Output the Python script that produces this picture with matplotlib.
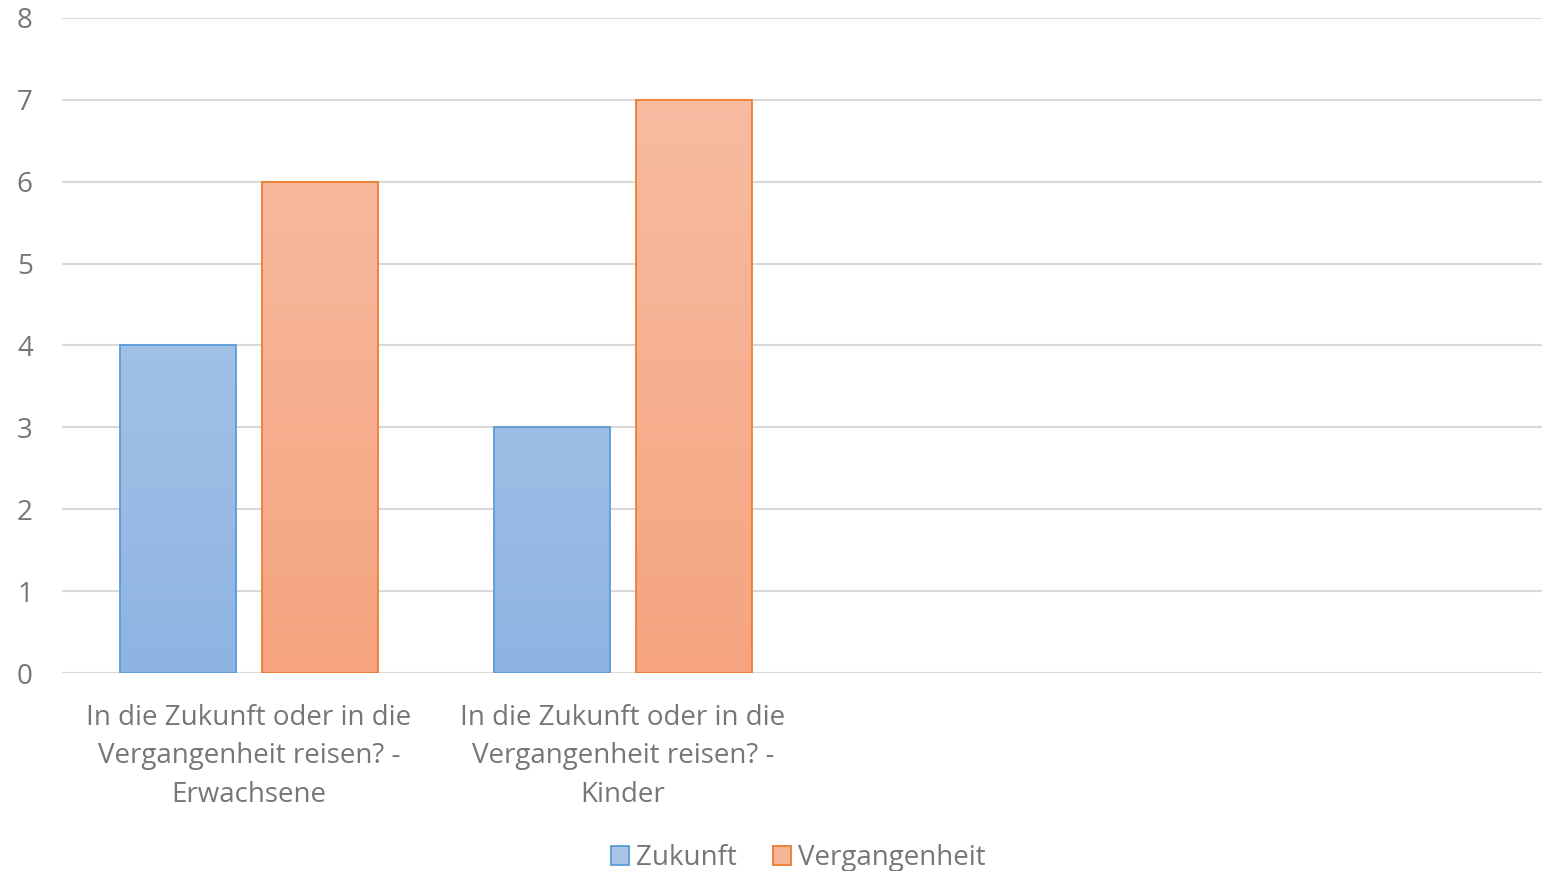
import matplotlib
matplotlib.use("Agg")
import matplotlib.pyplot as plt
import numpy as np
from matplotlib.colors import LinearSegmentedColormap
from matplotlib.patches import Patch

# data
categories = ['In die Zukunft oder in die\nVergangenheit reisen? -\nErwachsene',
              'In die Zukunft oder in die\nVergangenheit reisen? -\nKinder']
series_names = ['Zukunft', 'Vergangenheit']
zukunft = [4, 3]
vergangenheit = [6, 7]
n_slots = 4  # the category axis has room for four groups

# style
edge_colors = ['#5B9BD5', '#ED7D31']
grad_top = ['#B4CDEB', '#F8BFA6']
grad_bottom = ['#8FB4E2', '#F5A47F']
text_col = '#767676'
plt.rcParams['font.family'] = ['Open Sans', 'DejaVu Sans']
fs = 20

fig = plt.figure(figsize=(15.42, 8.71), dpi=100)
ax = fig.add_axes([62 / 1542, 198 / 871, 1 - 62 / 1542, 655 / 871])

x = np.arange(len(categories))
width = 0.31
offset = 0.191
ylim = (0, 8)

for i, (vals, name) in enumerate(zip([zukunft, vergangenheit], series_names)):
    pos = x + (offset if i else -offset)
    cmap = LinearSegmentedColormap.from_list('g%d' % i, [grad_bottom[i], grad_top[i]])
    bars = ax.bar(pos, vals, width, facecolor='none', edgecolor=edge_colors[i],
                  linewidth=1.3, zorder=3)
    for b in bars:
        x0 = b.get_x()
        grad = np.linspace(0, 1, 256).reshape(-1, 1)
        im = ax.imshow(grad, cmap=cmap, origin='lower', aspect='auto',
                       extent=[x0, x0 + b.get_width(), 0, ylim[1]], zorder=2)
        im.set_clip_path(b)

ax.set_ylim(*ylim)
ax.set_xlim(-0.5, n_slots - 0.5 - 16 / 374)
ax.set_xticks(x)
ax.set_xticklabels(categories, fontsize=fs, color=text_col, linespacing=1.52)
ax.set_yticks(range(0, 9))
ax.tick_params(axis='y', labelsize=fs, labelcolor=text_col, length=0, pad=21)
ax.tick_params(axis='x', length=0, pad=22)
ax.yaxis.grid(True, color='#D9D9D9', linewidth=1.5, zorder=0)
ax.set_axisbelow(True)
for s in ax.spines.values():
    s.set_visible(False)

handles = [Patch(facecolor='#A9C6E9', edgecolor=edge_colors[0], linewidth=1.3),
           Patch(facecolor='#F7B597', edgecolor=edge_colors[1], linewidth=1.3)]
leg = fig.legend(handles, series_names, loc='center', bbox_to_anchor=(798 / 1542, 1 - 858 / 871),
                 ncol=2, frameon=False, fontsize=fs, handlelength=0.65, handleheight=0.65,
                 handletextpad=0.25, columnspacing=1.3)
for t in leg.get_texts():
    t.set_color(text_col)

fig.savefig('out.png', dpi=100)
